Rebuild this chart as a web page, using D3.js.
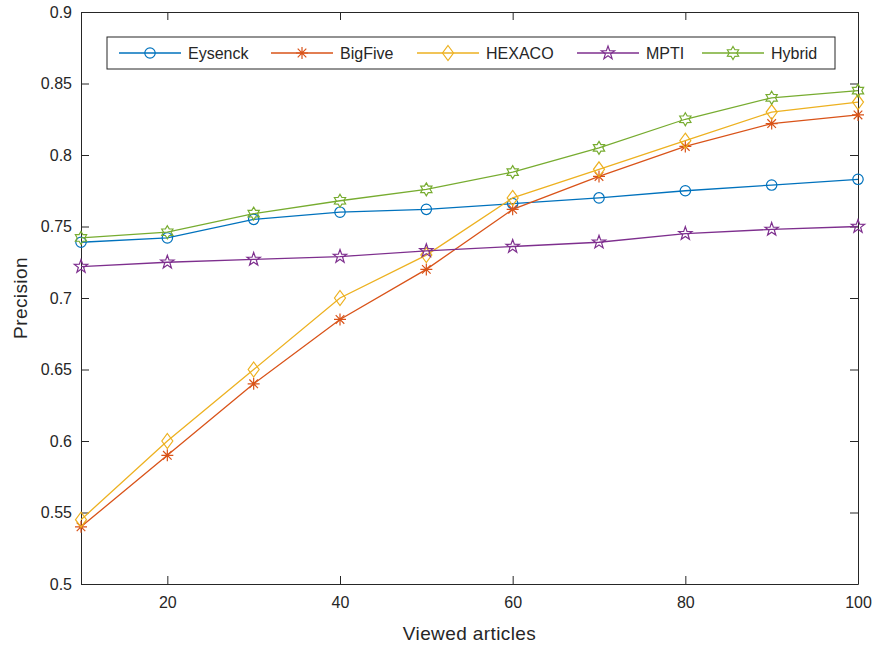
<!DOCTYPE html>
<meta charset="utf-8">
<style>
body { margin: 0; background: #fff; }
text { font-family: "Liberation Sans", Arial, sans-serif; fill: #262626; }
</style>
<body>
<script src="https://d3js.org/d3.v7.min.js"></script>
<script>

// data
var articles = [10, 20, 30, 40, 50, 60, 70, 80, 90, 100];
var eysenck = [0.739, 0.742, 0.755, 0.760, 0.762, 0.766, 0.770, 0.775, 0.779, 0.783];
var bigFive = [0.540, 0.590, 0.640, 0.685, 0.720, 0.762, 0.785, 0.806, 0.822, 0.828];
var hexaco  = [0.545, 0.600, 0.650, 0.700, 0.730, 0.770, 0.790, 0.810, 0.830, 0.837];
var mpti    = [0.722, 0.725, 0.727, 0.729, 0.733, 0.736, 0.739, 0.745, 0.748, 0.750];
var hybrid  = [0.742, 0.746, 0.759, 0.768, 0.776, 0.788, 0.805, 0.825, 0.840, 0.845];
var xTicks = [20, 40, 60, 80, 100];
var yTicks = [0.5, 0.55, 0.6, 0.65, 0.7, 0.75, 0.8, 0.85, 0.9];

var series = [
  {name: "Eysenck", values: eysenck, color: "#0072BD", marker: "circle"},
  {name: "BigFive", values: bigFive, color: "#D95319", marker: "asterisk"},
  {name: "HEXACO",  values: hexaco,  color: "#EDB120", marker: "diamond"},
  {name: "MPTI",    values: mpti,    color: "#7E2F8E", marker: "pentagram"},
  {name: "Hybrid",  values: hybrid,  color: "#77AC30", marker: "hexagram"}
];

var margin = {top: 12, right: 18, bottom: 62, left: 81},
    width = 876 - margin.left - margin.right,
    height = 646 - margin.top - margin.bottom;

var x = d3.scaleLinear().domain([10, 100]).range([0, width]);
var y = d3.scaleLinear().domain([0.5, 0.9]).range([height, 0]);

var svg = d3.select("body").append("svg")
    .attr("width", 876)
    .attr("height", 646)
  .append("g")
    .attr("transform", "translate(" + margin.left + "," + margin.top + ")");

// star path helper (points, outer radius, inner radius)
function star(n, ro, ri) {
  var pts = [];
  for (var i = 0; i < 2 * n; i++) {
    var a = Math.PI * i / n - Math.PI / 2;
    var r = i % 2 === 0 ? ro : ri;
    pts.push([r * Math.cos(a), r * Math.sin(a)]);
  }
  return "M" + pts.join("L") + "Z";
}

function markerPath(type) {
  if (type === "circle") return d3.symbol(d3.symbolCircle, 85)();
  if (type === "diamond") return "M0,-7.5L5.5,0L0,7.5L-5.5,0Z";
  if (type === "asterisk") return "M-6,0H6M0,-6V6M-4.3,-4.3L4.3,4.3M-4.3,4.3L4.3,-4.3";
  if (type === "pentagram") return star(5, 7, 2.8);
  if (type === "hexagram") return star(6, 6.5, 3.8);
}

// axes: ticks inward on all four sides
var tickLen = 8;
svg.append("g")
    .attr("transform", "translate(0," + height + ")")
    .call(d3.axisBottom(x).tickValues(xTicks).tickSizeInner(-tickLen).tickSizeOuter(0).tickPadding(13))
    .call(function(g) { g.selectAll("text").style("font-size", "16px"); });
svg.append("g")
    .call(d3.axisTop(x).tickValues(xTicks).tickSizeInner(-tickLen).tickSizeOuter(0).tickFormat(""));
svg.append("g")
    .call(d3.axisLeft(y).tickValues(yTicks).tickSizeInner(-tickLen).tickSizeOuter(0).tickPadding(9)
      .tickFormat(function(d) { return d3.format("")(+d.toFixed(2)); }))
    .call(function(g) { g.selectAll("text").style("font-size", "16px"); });
svg.append("g")
    .attr("transform", "translate(" + width + ",0)")
    .call(d3.axisRight(y).tickValues(yTicks).tickSizeInner(-tickLen).tickSizeOuter(0).tickFormat(""));

svg.selectAll(".domain").attr("stroke", "#262626");
svg.selectAll(".tick line").attr("stroke", "#262626");

// lines and markers
var line = d3.line()
    .x(function(d, i) { return x(articles[i]); })
    .y(function(d) { return y(d); });

series.forEach(function(s) {
  svg.append("path")
      .datum(s.values)
      .attr("fill", "none")
      .attr("stroke", s.color)
      .attr("stroke-width", 1.3)
      .attr("d", line);
  svg.selectAll(null)
      .data(s.values)
    .enter().append("path")
      .attr("transform", function(d, i) { return "translate(" + x(articles[i]) + "," + y(d) + ")"; })
      .attr("d", markerPath(s.marker))
      .attr("fill", "none")
      .attr("stroke", s.color)
      .attr("stroke-width", 1.2);
});

// legend
var legend = svg.append("g").attr("transform", "translate(26,25)");
legend.append("rect")
    .attr("width", 728).attr("height", 32)
    .attr("fill", "#fff").attr("stroke", "#262626").attr("stroke-width", 1);
var legendX = [12, 164, 310, 470, 595];
series.forEach(function(s, i) {
  var g = legend.append("g").attr("transform", "translate(" + legendX[i] + ",16)");
  g.append("line").attr("x1", 0).attr("x2", 62).attr("stroke", s.color).attr("stroke-width", 1.3);
  g.append("path").attr("transform", "translate(31,0)").attr("d", markerPath(s.marker))
      .attr("fill", "none").attr("stroke", s.color).attr("stroke-width", 1.2);
  g.append("text").attr("x", 69).attr("dy", "0.35em").style("font-size", "16px").text(s.name);
});

// axis labels
svg.append("text")
    .attr("x", width / 2)
    .attr("y", height + 56)
    .attr("text-anchor", "middle")
    .style("font-size", "19px")
    .style("letter-spacing", "0.4px")
    .text("Viewed articles");

svg.append("text")
    .attr("transform", "rotate(-90)")
    .attr("x", -height / 2)
    .attr("y", -54)
    .attr("text-anchor", "middle")
    .style("font-size", "19px")
    .style("letter-spacing", "0.4px")
    .text("Precision");

</script>
</body>
